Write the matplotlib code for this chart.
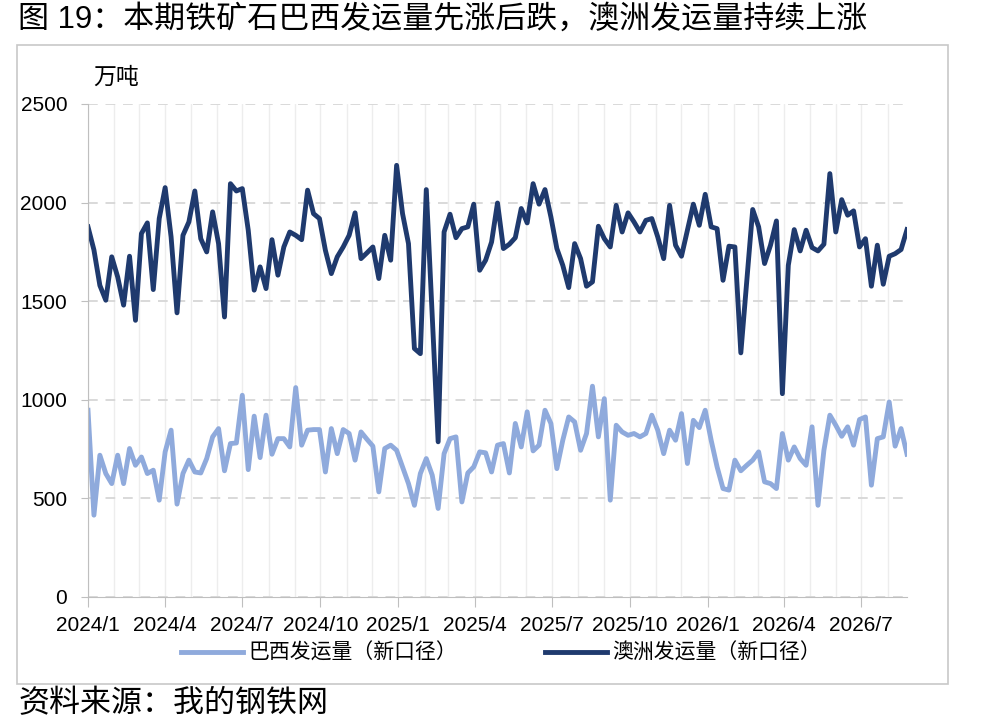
import numpy as np
import pandas as pd
import matplotlib
matplotlib.use("Agg")
import matplotlib.pyplot as plt
import matplotlib.dates as mdates
from matplotlib.patches import Rectangle

plt.rcParams['font.family'] = ['Liberation Sans', 'Noto Sans CJK SC', 'DejaVu Sans']

# ---- data (weekly, 万吨) ----
start_date = "2024-01-01"
brazil = [947, 415, 719, 626, 575, 719, 575, 753, 668, 710, 626, 643, 491, 736, 846, 471,
          626, 694, 634, 629, 702, 812, 854, 640, 778, 781, 1023, 646, 917, 707, 922, 724,
          803, 803, 761, 1062, 770, 846, 849, 849, 634, 854, 727, 849, 829, 694, 837, 800,
          765, 533, 753, 770, 744, 660, 575, 465, 626, 702, 618, 449, 727, 803, 812, 482,
          629, 660, 736, 731, 634, 770, 778, 629, 880, 761, 939, 741, 770, 947, 880, 651,
          795, 913, 888, 744, 829, 1069, 812, 1006, 491, 871, 837, 820, 829, 812, 829, 922,
          846, 727, 846, 795, 930, 677, 896, 859, 947, 795, 660, 550, 542, 694, 640, 668,
          694, 736, 584, 575, 550, 829, 694, 761, 702, 668, 863, 465, 744, 922, 871, 815,
          863, 770, 900, 913, 567, 803, 812, 989, 765, 854, 724]
australia = [1877, 1760, 1580, 1505, 1725, 1623, 1480, 1728, 1403, 1843, 1897, 1559, 1919, 2076,
             1826, 1441, 1834, 1902, 2059, 1817, 1750, 1953, 1792, 1420, 2096, 2059, 2071, 1860,
             1556, 1674, 1564, 1812, 1632, 1775, 1851, 1834, 1812, 2063, 1944, 1919, 1758, 1640,
             1725, 1775, 1834, 1948, 1716, 1745, 1775, 1615, 1834, 1708, 2189, 1944, 1792, 1260,
             1234, 2066, 1430, 787, 1851, 1941, 1822, 1868, 1877, 1992, 1657, 1708, 1800, 1998,
             1767, 1789, 1822, 1970, 1897, 2096, 1992, 2066, 1927, 1767, 1682, 1569, 1792, 1716,
             1576, 1598, 1880, 1817, 1775, 1986, 1851, 1948, 1902, 1851, 1910, 1919, 1826, 1716,
             1986, 1784, 1728, 1860, 1992, 1885, 2042, 1877, 1868, 1606, 1779, 1775, 1238, 1600,
             1965, 1877, 1691, 1784, 1907, 1031, 1682, 1863, 1755, 1860, 1772, 1755, 1789, 2147,
             1851, 2015, 1936, 1958, 1775, 1817, 1576, 1784, 1586, 1728, 1741, 1762, 1863]
brazil_label = "巴西发运量（新口径）"
australia_label = "澳洲发运量（新口径）"
title = "图 19：本期铁矿石巴西发运量先涨后跌，澳洲发运量持续上涨"
source = "资料来源：我的钢铁网"
unit = "万吨"

dates = pd.date_range(start_date, periods=len(brazil), freq="7D")

light_blue = "#8FAADC"
dark_blue = "#1F3A6E"

fig = plt.figure(figsize=(9.81, 7.21), dpi=100)
ax = fig.add_axes([88 / 981, 1 - 597 / 721, (907 - 88) / 981, (597 - 104) / 721])

ax.plot(dates, brazil, color=light_blue, lw=3.5, label=brazil_label, solid_joinstyle='round')
ax.plot(dates, australia, color=dark_blue, lw=3.5, label=australia_label, solid_joinstyle='round')

ax.set_ylim(0, 2500)
ax.set_yticks(np.arange(0, 2501, 500))
ax.set_xlim(dates[0], dates[-1])
ax.xaxis.set_major_locator(mdates.MonthLocator(bymonth=[1, 4, 7, 10]))
ax.xaxis.set_major_formatter(plt.FuncFormatter(lambda v, p: f"{mdates.num2date(v).year}/{mdates.num2date(v).month}"))
ax.xaxis.set_minor_locator(mdates.MonthLocator())

ax.grid(axis='y', which='major', color='#D9D9D9', ls=(0, (5, 4)), lw=1.4)
ax.grid(axis='x', which='both', color='#EDEDED', lw=1.0)
ax.set_axisbelow(True)

for s in ['top', 'right']:
    ax.spines[s].set_visible(False)
ax.spines['left'].set_color('#BFBFBF')
ax.spines['bottom'].set_color('#BFBFBF')
ax.tick_params(axis='both', which='major', labelsize=15, color='#BFBFBF', direction='out')
ax.tick_params(axis='y', length=5, pad=10)
ax.tick_params(axis='x', which='major', length=7, pad=7)
ax.tick_params(axis='x', which='minor', length=0)

fig.text(93 / 981, 1 - 77 / 721, unit, fontsize=16.5, va='center', ha='left')
fig.text(18 / 981, 1 - 20 / 721, title, fontsize=22.3, va='center', ha='left')
fig.text(19 / 981, 1 - 704 / 721, source, fontsize=22.3, va='center', ha='left')

fig.legend(loc='center', bbox_to_anchor=(501 / 981, 1 - 653 / 721), ncol=2, frameon=False,
           fontsize=15, handlelength=3.0, handletextpad=0.25, columnspacing=4.2)

fig.patches.append(Rectangle((17 / 981, 1 - 684 / 721), (948 - 17) / 981, (684 - 45) / 721,
                             transform=fig.transFigure, fill=False, edgecolor='#C8C8C8', lw=1.2))

fig.savefig("out.png", dpi=100)
